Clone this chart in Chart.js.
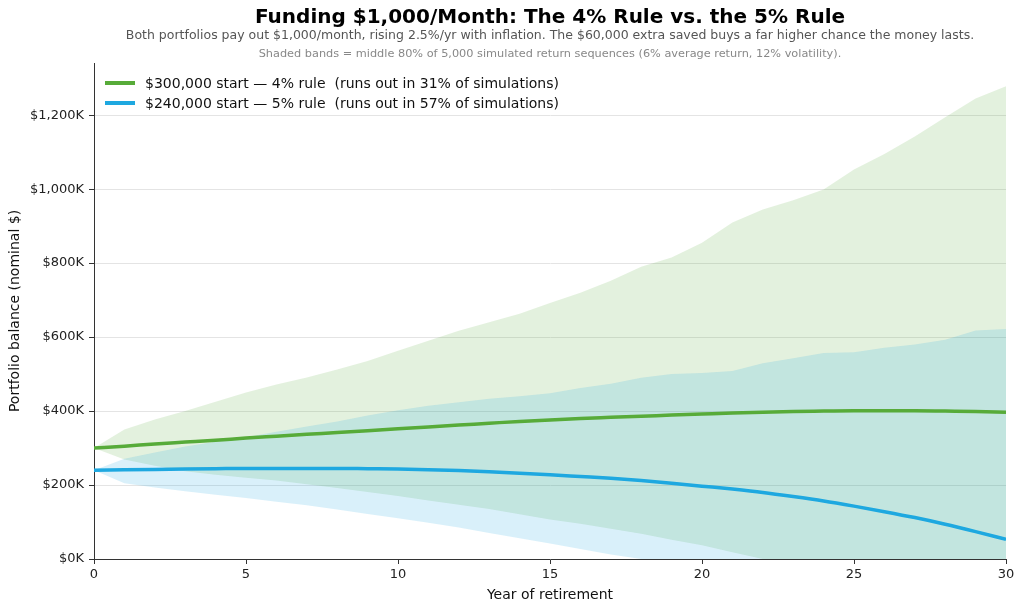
<!DOCTYPE html>
<html>
<head>
<meta charset="utf-8">
<script src="https://cdn.jsdelivr.net/npm/chart.js@4.4.1/dist/chart.umd.min.js"></script>
<style>
  body { margin: 0; background: #fff; }
  canvas { display: block; }
</style>
</head>
<body>
<canvas id="retirement-chart" width="1024" height="611"></canvas>
<script>
// values in $ thousands
const years = [0, 1, 2, 3, 4, 5, 6, 7, 8, 9, 10, 11, 12, 13, 14, 15, 16, 17, 18, 19, 20, 21, 22, 23, 24, 25, 26, 27, 28, 29, 30];
const median4 = [300, 305, 311, 316, 321, 327, 332, 337, 342, 347, 352, 357, 362, 367, 372, 376, 380, 383, 386, 389, 392, 395, 397, 399, 400, 401, 401, 401, 400, 399, 397];
const p90_4 = [300, 350, 377, 400, 425, 450, 472, 491, 512, 535, 563, 590, 617, 640, 663, 692, 720, 752, 790, 815, 855, 910, 945, 970, 999, 1053, 1095, 1142, 1194, 1245, 1278];
const p10_4 = [300, 269, 252, 237, 228, 220, 212, 202, 192, 181, 170, 158, 147, 135, 121, 107, 95, 82, 68, 52, 37, 18, 0, 0, 0, 0, 0, 0, 0, 0, 0];
const median5 = [240, 241, 242, 243, 244, 245, 245, 245, 245, 244, 243, 241, 239, 236, 232, 228, 223, 218, 212, 205, 197, 189, 180, 169, 157, 143, 128, 112, 94, 74, 53];
const p90_5 = [240, 271, 288, 304, 317, 329, 344, 358, 372, 388, 402, 414, 424, 433, 440, 448, 462, 474, 490, 500, 503, 508, 529, 543, 557, 559, 571, 580, 593, 618, 622];
const p10_5 = [240, 205, 193, 183, 174, 165, 155, 145, 134, 122, 110, 98, 85, 70, 56, 42, 27, 12, 0, 0, 0, 0, 0, 0, 0, 0, 0, 0, 0, 0, 0];
const seriesLabels = [
  '$300,000 start \u2014 4% rule  (runs out in 31% of simulations)',
  '$240,000 start \u2014 5% rule  (runs out in 57% of simulations)'
];

const titleText = 'Funding $1,000/Month: The 4% Rule vs. the 5% Rule';
const subtitleText = 'Both portfolios pay out $1,000/month, rising 2.5%/yr with inflation. The $60,000 extra saved buys a far higher chance the money lasts.';
const noteText = 'Shaded bands = middle 80% of 5,000 simulated return sequences (6% average return, 12% volatility).';

const green = '#57ab39';
const blue = '#1ea8e0';
const greenBand = 'rgba(90,170,60,0.17)';
const blueBand = 'rgba(30,168,224,0.17)';
const fontFamily = "'DejaVu Sans', sans-serif";

const pts = (arr) => years.map((x, i) => ({ x: x, y: arr[i] }));

const headerPlugin = {
  id: 'header',
  afterDraw(chart) {
    const ctx = chart.ctx;
    const area = chart.chartArea;
    const cx = (area.left + area.right) / 2;
    ctx.save();
    ctx.textAlign = 'center';
    ctx.textBaseline = 'middle';
    ctx.fillStyle = '#000';
    ctx.font = "bold 20px 'DejaVu Sans'";
    ctx.fillText(titleText, cx, 18);
    ctx.fillStyle = '#555';
    ctx.font = "12.5px 'DejaVu Sans'";
    ctx.fillText(subtitleText, cx, 36);
    ctx.fillStyle = '#888';
    ctx.font = "11.3px 'DejaVu Sans'";
    ctx.fillText(noteText, cx, 54);

    // legend, top left inside the plot
    const colors = [green, blue];
    ctx.textAlign = 'left';
    ctx.font = "14px 'DejaVu Sans'";
    seriesLabels.forEach((label, i) => {
      const y = area.top + 20 + i * 20;
      ctx.strokeStyle = colors[i];
      ctx.lineWidth = 4;
      ctx.beginPath();
      ctx.moveTo(area.left + 11, y);
      ctx.lineTo(area.left + 41, y);
      ctx.stroke();
      ctx.fillStyle = '#111';
      ctx.fillText(label, area.left + 51, y + 1);
    });
    ctx.restore();
  }
};

new Chart(document.getElementById('retirement-chart'), {
  type: 'line',
  data: {
    datasets: [
      { data: pts(p90_4), fill: '+1', backgroundColor: greenBand, borderWidth: 0, pointRadius: 0, order: 3 },
      { data: pts(p10_4), fill: false, borderWidth: 0, pointRadius: 0, order: 3 },
      { data: pts(p90_5), fill: '+1', backgroundColor: blueBand, borderWidth: 0, pointRadius: 0, order: 2 },
      { data: pts(p10_5), fill: false, borderWidth: 0, pointRadius: 0, order: 2 },
      { label: seriesLabels[0], data: pts(median4), borderColor: green, borderWidth: 3.5, pointRadius: 0, fill: false, cubicInterpolationMode: 'monotone', order: 1 },
      { label: seriesLabels[1], data: pts(median5), borderColor: blue, borderWidth: 3.5, pointRadius: 0, fill: false, cubicInterpolationMode: 'monotone', order: 0 }
    ]
  },
  options: {
    responsive: false,
    animation: false,
    devicePixelRatio: 1,
    layout: { padding: { top: 63, right: 18, bottom: 7, left: 0 } },
    plugins: {
      legend: { display: false },
      tooltip: { enabled: false }
    },
    scales: {
      x: {
        type: 'linear',
        min: 0,
        max: 30,
        afterFit: (scale) => { scale.height = 45; },
        ticks: { stepSize: 5, color: '#222', padding: 3, font: { family: fontFamily, size: 13 } },
        grid: { drawOnChartArea: false, drawTicks: true, tickLength: 5, tickColor: '#333' },
        border: { color: '#333', width: 1 },
        title: { display: true, text: 'Year of retirement', color: '#111', padding: { top: 2, bottom: 0 }, font: { family: fontFamily, size: 14 } }
      },
      y: {
        min: 0,
        max: 1341,
        afterFit: (scale) => { scale.width = 94; },
        ticks: {
          stepSize: 200,
          includeBounds: false,
          color: '#222',
          padding: 5,
          font: { family: fontFamily, size: 13 },
          callback: (v) => '$' + v.toLocaleString('en-US') + 'K'
        },
        grid: { color: '#e4e4e4', lineWidth: 1, tickLength: 5, tickColor: '#333' },
        border: { color: '#333', width: 1 },
        title: { display: true, text: 'Portfolio balance (nominal $)', color: '#111', padding: { top: 7, bottom: 4 }, font: { family: fontFamily, size: 14 } }
      }
    }
  },
  plugins: [headerPlugin]
});
</script>
</body>
</html>
